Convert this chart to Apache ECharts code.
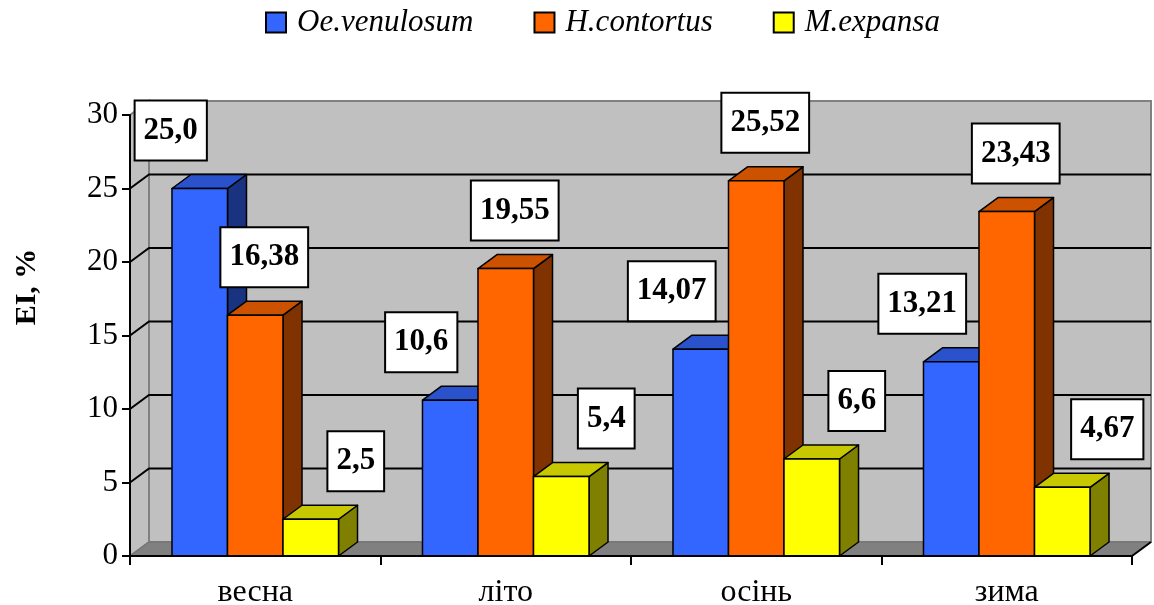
<!DOCTYPE html>
<html>
<head>
<meta charset="utf-8">
<script src="https://cdn.jsdelivr.net/npm/echarts@6/dist/echarts.min.js"></script>
<style>
  html, body { margin: 0; padding: 0; background: #fff; }
  #chart { width: 1154px; height: 605px; }
</style>
</head>
<body>
<div id="chart"></div>
<script>
// Seasonal EI values, written as printed (decimal comma)
const categories = ['весна', 'літо', 'осінь', 'зима'];
const seriesNames = ['Oe.venulosum', 'H.contortus', 'M.expansa'];
const oeVenulosum = ['25,0', '10,6', '14,07', '13,21'];
const hContortus = ['16,38', '19,55', '25,52', '23,43'];
const mExpansa = ['2,5', '5,4', '6,6', '4,67'];
const yTicks = [0, 5, 10, 15, 20, 25, 30];

const toNumber = s => parseFloat(s.replace(',', '.'));

const FAMILY = 'Liberation Serif';
const DX = 19, DY = -14;          // depth offset of the 3D box
const BAR_FRAC = 0.2216;          // bar width as share of category band
const LABEL_SHIFT = [-29, 9, 45]; // horizontal label nudge per series
const LABEL_RISE = 58;

const palette = [
  { front: '#3366FF', top: '#2952CC', side: '#1A3380' },
  { front: '#FF6600', top: '#CC5200', side: '#803300' },
  { front: '#FFFF00', top: '#C8C800', side: '#808000' }
];

function barRenderer(si, labels) {
  const c = palette[si];
  return function (params, api) {
    const ci = api.value(0);
    const v = api.value(1);
    const base = api.coord([ci, 0]);
    const top = api.coord([ci, v]);
    const w = api.size([1, 0])[0] * BAR_FRAC;
    const cx = base[0] + (si - 1) * w;
    const x0 = cx - w / 2, x1 = cx + w / 2, yb = base[1], yt = top[1];
    const z = ci * 10 + si;
    const edge = { stroke: '#000', lineWidth: 1.5, lineJoin: 'round' };
    return {
      type: 'group',
      children: [
        { type: 'polygon', z2: z,
          shape: { points: [[x1, yb], [x1 + DX, yb + DY], [x1 + DX, yt + DY], [x1, yt]] },
          style: Object.assign({ fill: c.side }, edge) },
        { type: 'polygon', z2: z,
          shape: { points: [[x0, yt], [x1, yt], [x1 + DX, yt + DY], [x0 + DX, yt + DY]] },
          style: Object.assign({ fill: c.top }, edge) },
        { type: 'polygon', z2: z,
          shape: { points: [[x0, yb], [x1, yb], [x1, yt], [x0, yt]] },
          style: Object.assign({ fill: c.front }, edge) },
        { type: 'text', z2: 1000,
          style: {
            text: labels[params.dataIndex],
            x: cx + LABEL_SHIFT[si], y: yt - LABEL_RISE,
            align: 'center', verticalAlign: 'middle',
            fontFamily: FAMILY, fontWeight: 'bold', fontSize: 31, fill: '#000',
            backgroundColor: '#fff', borderColor: '#000', borderWidth: 2,
            padding: [13, 8], lineHeight: 32
          } }
      ]
    };
  };
}

// Walls, floor and gridlines of the 3D plot box
function wallRenderer(params, api) {
  const cs = params.coordSys;
  const L = cs.x, R = cs.x + cs.width, T = cs.y, B = cs.y + cs.height;
  const children = [
    { type: 'polygon', shape: { points: [[L + DX, T + DY], [R + DX, T + DY], [R + DX, B + DY], [L + DX, B + DY]] },
      style: { fill: '#C0C0C0', stroke: '#808080', lineWidth: 2 } },
    { type: 'polygon', shape: { points: [[L, B], [L + DX, B + DY], [L + DX, T + DY], [L, T]] },
      style: { fill: '#C0C0C0', stroke: '#808080', lineWidth: 2 } },
    { type: 'polygon', shape: { points: [[L, B], [R, B], [R + DX, B + DY], [L + DX, B + DY]] },
      style: { fill: '#808080', stroke: '#707070', lineWidth: 1 } },
    { type: 'line', shape: { x1: R, y1: B, x2: R + DX, y2: B + DY },
      style: { stroke: '#000', lineWidth: 2 } }
  ];
  yTicks.forEach(v => {
    if (v === yTicks[0] || v === yTicks[yTicks.length - 1]) return;
    const y = api.coord([0, v])[1];
    children.push({ type: 'polyline', shape: { points: [[L, y], [L + DX, y + DY], [R + DX, y + DY]] },
      style: { stroke: '#000', lineWidth: 2, fill: null } });
  });
  return { type: 'group', children };
}

const seriesValues = [oeVenulosum, hContortus, mExpansa];

const chart = echarts.init(document.getElementById('chart'), null, { renderer: 'canvas' });
chart.setOption({
  animation: false,
  backgroundColor: '#fff',
  textStyle: { fontFamily: FAMILY },
  legend: {
    data: seriesNames,
    top: 7, left: 265, padding: 0,
    icon: 'rect', itemWidth: 20, itemHeight: 20, itemGap: 60,
    itemStyle: { borderColor: '#000', borderWidth: 2 },
    formatter: name => '{i|' + name + '}',
    textStyle: {
      fontFamily: FAMILY, fontStyle: 'italic', fontSize: 31, color: '#000',
      rich: { i: { fontFamily: FAMILY, fontStyle: 'italic', fontSize: 31, color: '#000', padding: [0, 0, 0, 6] } }
    }
  },
  grid: { left: 130, right: 22, top: 115, bottom: 49, outerBoundsMode: 'none' },
  xAxis: {
    type: 'category', data: categories, z: 3,
    axisLine: { lineStyle: { color: '#000', width: 2 } },
    axisTick: { show: true, length: 9, lineStyle: { color: '#000', width: 2 } },
    axisLabel: { color: '#000', fontFamily: FAMILY, fontSize: 32, margin: 21 },
    splitLine: { show: false }
  },
  yAxis: {
    type: 'value', min: yTicks[0], max: yTicks[yTicks.length - 1], interval: 5, z: 3,
    axisLine: { show: true, lineStyle: { color: '#000', width: 2 } },
    axisTick: { show: true, length: 8, lineStyle: { color: '#000', width: 2 } },
    axisLabel: { color: '#000', fontFamily: FAMILY, fontSize: 31, margin: 12 },
    splitLine: { show: false }
  },
  graphic: [{
    type: 'text', x: 27, y: 287, rotation: Math.PI / 2,
    style: { text: 'EI, %', fontFamily: FAMILY, fontWeight: 'bold', fontSize: 30, fill: '#000', align: 'center', verticalAlign: 'middle' }
  }],
  series: [
    { type: 'custom', name: '_box', silent: true, z: 1, renderItem: wallRenderer,
      data: [[0, 0]], encode: { x: 0, y: 1 } }
  ].concat(seriesValues.map((vals, si) => ({
    type: 'custom', name: seriesNames[si], z: 2, silent: true,
    itemStyle: { color: palette[si].front },
    renderItem: barRenderer(si, vals),
    encode: { x: 0, y: 1 },
    data: vals.map((s, i) => [i, toNumber(s)])
  })))
});
</script>
</body>
</html>
